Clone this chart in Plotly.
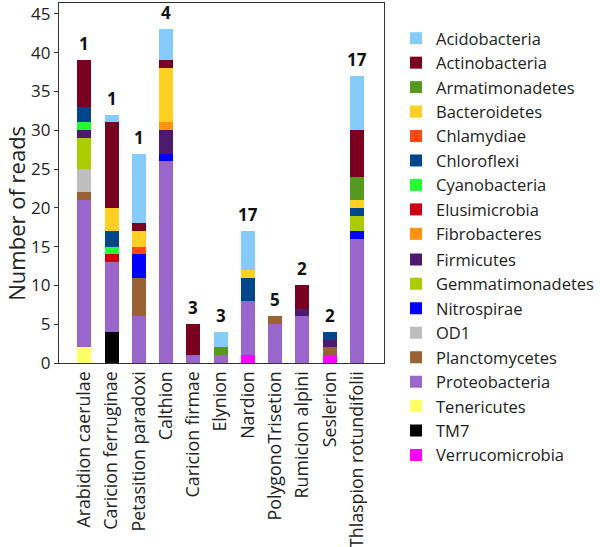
import plotly.graph_objects as go

categories = ["Arabidion caerulae", "Caricion ferruginae", "Petasition paradoxi", "Calthion",
              "Caricion firmae", "Elynion", "Nardion", "PolygonoTrisetion", "Rumicion alpini",
              "Seslerion", "Thlaspion rotundifolii"]
count_labels = ["1", "1", "1", "4", "3", "3", "17", "5", "2", "2", "17"]

Acidobacteria    = [0, 1, 9, 4, 0, 2, 5, 0, 0, 0, 7]
Actinobacteria   = [6, 11, 1, 1, 4, 0, 0, 0, 3, 0, 6]
Armatimonadetes  = [0, 0, 0, 0, 0, 1, 0, 0, 0, 0, 3]
Bacteroidetes    = [0, 3, 2, 7, 0, 0, 1, 0, 0, 0, 1]
Chlamydiae       = [0, 0, 1, 0, 0, 0, 0, 0, 0, 0, 0]
Chloroflexi      = [2, 2, 0, 0, 0, 0, 3, 0, 0, 1, 1]
Cyanobacteria    = [1, 1, 0, 0, 0, 0, 0, 0, 0, 0, 0]
Elusimicrobia    = [0, 1, 0, 0, 0, 0, 0, 0, 0, 0, 0]
Fibrobacteres    = [0, 0, 0, 1, 0, 0, 0, 0, 0, 0, 0]
Firmicutes       = [1, 0, 0, 3, 0, 0, 0, 0, 1, 1, 0]
Gemmatimonadetes = [4, 0, 0, 0, 0, 0, 0, 0, 0, 0, 2]
Nitrospirae      = [0, 0, 3, 1, 0, 0, 0, 0, 0, 0, 1]
OD1              = [3, 0, 0, 0, 0, 0, 0, 0, 0, 0, 0]
Planctomycetes   = [1, 0, 5, 0, 0, 0, 0, 1, 0, 1, 0]
Proteobacteria   = [19, 9, 6, 26, 1, 1, 7, 5, 6, 0, 16]
Tenericutes      = [2, 0, 0, 0, 0, 0, 0, 0, 0, 0, 0]
TM7              = [0, 4, 0, 0, 0, 0, 0, 0, 0, 0, 0]
Verrucomicrobia  = [0, 0, 0, 0, 0, 0, 1, 0, 0, 1, 0]

series = [
    ("Acidobacteria", Acidobacteria, "#85CBFB"),
    ("Actinobacteria", Actinobacteria, "#7A0022"),
    ("Armatimonadetes", Armatimonadetes, "#559A1E"),
    ("Bacteroidetes", Bacteroidetes, "#FFD021"),
    ("Chlamydiae", Chlamydiae, "#FF4814"),
    ("Chloroflexi", Chloroflexi, "#00468A"),
    ("Cyanobacteria", Cyanobacteria, "#22FF33"),
    ("Elusimicrobia", Elusimicrobia, "#CC0012"),
    ("Fibrobacteres", Fibrobacteres, "#FF9212"),
    ("Firmicutes", Firmicutes, "#4C1B70"),
    ("Gemmatimonadetes", Gemmatimonadetes, "#AACC00"),
    ("Nitrospirae", Nitrospirae, "#0000FF"),
    ("OD1", OD1, "#BEBEBE"),
    ("Planctomycetes", Planctomycetes, "#9A6233"),
    ("Proteobacteria", Proteobacteria, "#9966CC"),
    ("Tenericutes", Tenericutes, "#FFFF66"),
    ("TM7", TM7, "#000000"),
    ("Verrucomicrobia", Verrucomicrobia, "#FF00FF"),
]

FONT = "Open Sans"
fig = go.Figure()
n_first = 9  # entries shown in the first legend block
for idx in range(len(series) - 1, -1, -1):
    name, vals, col = series[idx]
    fig.add_trace(go.Bar(
        x=categories, y=[v if v else None for v in vals], name=name,
        marker=dict(color=col, line=dict(width=0)),
        legend="legend" if idx < n_first else "legend2",
    ))

totals = [sum(s[1][i] for s in series) for i in range(len(categories))]
for c, t, lab in zip(categories, totals, count_labels):
    fig.add_annotation(x=c, y=t, text="<b>" + lab + "</b>", showarrow=False,
                       yanchor="bottom", yshift=3,
                       font=dict(family=FONT, size=17, color="#111"))

# y-axis title (placed like the reference, slightly below the axis middle)
fig.add_annotation(xref="paper", yref="paper", x=-0.132, y=0.415,
                   xanchor="center", yanchor="middle",
                   text="Number of reads", textangle=-90, showarrow=False,
                   font=dict(family=FONT, size=22, color="#222"))

legend_style = dict(x=1.037, xanchor="left", yanchor="top", traceorder="reversed",
                    font=dict(family=FONT, size=16.5, color="#222"),
                    itemwidth=30, bgcolor="rgba(0,0,0,0)")

fig.update_layout(
    width=600, height=547,
    margin=dict(l=59, r=216, t=3, b=184, autoexpand=False),
    barmode="stack", bargap=0.487,
    plot_bgcolor="white", paper_bgcolor="white",
    font=dict(family=FONT, size=15, color="#222"),
    showlegend=True,
    legend=dict(y=0.950, **legend_style),
    legend2=dict(y=0.3356, **legend_style),
    yaxis=dict(range=[0, 46.4], dtick=5, showgrid=False, zeroline=False,
               showline=True, mirror=True, linecolor="#333", linewidth=1.3,
               ticks="outside", ticklen=4, tickcolor="#333",
               tickfont=dict(size=17)),
    xaxis=dict(range=[-0.93, 10.99], showgrid=False, zeroline=False,
               showline=True, mirror=True, linecolor="#333", linewidth=1.3,
               ticks="", tickangle=-90, tickfont=dict(size=17.8)),
)

fig.write_html("out.html", config={"displayModeBar": False},
               post_script="document.body.style.margin='0';")
